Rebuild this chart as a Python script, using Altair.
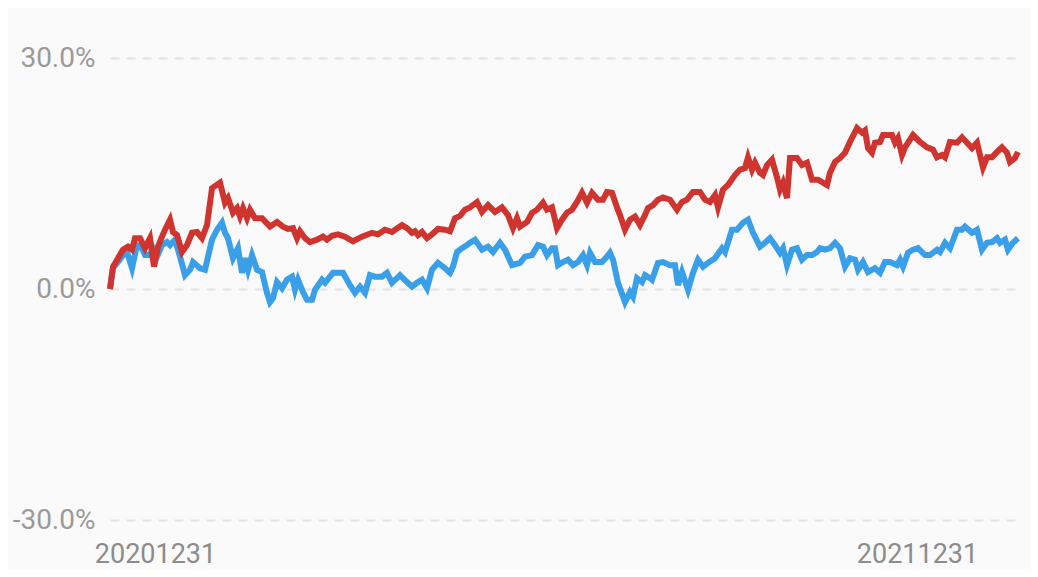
import altair as alt
import pandas as pd

# position along the year (0 = 20201231 ... 908 = end), cumulative return in %
red_t = [0, 3, 13, 18, 22, 25, 30, 35, 40, 44, 48, 52, 55, 60, 63, 67, 72, 77, 82, 87, 92, 97, 102, 110,
         115, 118, 123, 127, 130, 133, 137, 140, 145, 152, 160, 167, 173, 178, 183, 187, 190, 195, 200,
         207, 213, 217, 222, 228, 235, 243, 252, 262, 268, 275, 282, 292, 297, 302, 305, 308, 312, 317,
         322, 328, 335, 340, 345, 350, 355, 360, 367, 372, 378, 385, 392, 398, 403, 407, 410, 417, 422,
         427, 433, 437, 442, 447, 452, 457, 462, 467, 472, 477, 482, 488, 493, 497, 502, 507, 510, 515,
         520, 525, 530, 535, 538, 543, 548, 553, 560, 567, 572, 577, 583, 590, 595, 600, 605, 608, 613,
         618, 625, 630, 635, 638, 642, 645, 650, 653, 657, 662, 667, 670, 673, 677, 680, 687, 692, 697,
         702, 708, 717, 720, 725, 730, 735, 740, 747, 752, 755, 758, 762, 765, 770, 773, 782, 785, 788,
         792, 795, 803, 810, 817, 823, 827, 832, 835, 840, 847, 852, 857, 862, 867, 873, 877, 882, 887,
         892, 897, 900, 905, 908]
red_v = [0.0, 2.9, 5.1, 5.5, 5.1, 6.6, 6.6, 5.3, 6.6, 2.9, 5.5, 6.8, 7.7, 9.0, 7.4, 7.0, 4.8, 5.7, 7.3, 7.4,
         6.6, 8.3, 13.1, 13.8, 11.2, 11.8, 9.9, 10.5, 9.4, 10.5, 9.2, 10.3, 9.2, 9.2, 8.1, 8.7, 8.1, 7.8,
         7.9, 6.6, 7.5, 6.6, 6.1, 6.4, 6.8, 6.4, 6.9, 7.1, 6.8, 6.2, 6.8, 7.3, 7.1, 7.7, 7.4, 8.3, 7.9, 7.3,
         7.5, 7.0, 7.4, 6.6, 7.1, 7.8, 7.7, 7.5, 9.2, 9.5, 10.3, 10.6, 11.3, 10.0, 10.9, 10.0, 10.6, 9.6,
         7.9, 9.2, 8.1, 8.7, 9.9, 10.3, 11.2, 10.3, 10.6, 7.9, 9.0, 9.9, 10.3, 11.3, 12.5, 11.2, 12.5,
         11.6, 11.6, 12.6, 12.5, 10.6, 9.6, 7.7, 9.0, 9.4, 8.3, 9.6, 10.5, 10.9, 11.6, 11.9, 11.6, 10.3,
         11.3, 11.6, 12.6, 12.6, 11.6, 11.3, 12.2, 10.6, 12.9, 13.5, 14.8, 15.5, 15.7, 17.1, 15.5, 16.4,
         15.1, 14.8, 16.1, 16.8, 14.5, 12.9, 13.8, 11.8, 17.0, 17.0, 16.1, 16.4, 14.2, 14.2, 13.5, 15.1,
         16.5, 17.0, 17.7, 19.1, 20.9, 20.3, 20.6, 18.3, 17.7, 19.0, 19.1, 20.0, 20.0, 19.0, 19.6, 17.4,
         18.4, 20.0, 19.1, 18.4, 18.1, 17.1, 17.4, 17.1, 19.1, 19.0, 19.7, 19.0, 18.3, 19.0, 15.8, 17.1,
         17.1, 17.8, 18.4, 17.7, 16.5, 17.0, 17.8]

blue_t = [0, 3, 8, 13, 17, 22, 27, 32, 35, 40, 43, 47, 52, 57, 60, 65, 70, 75, 80, 83, 90, 95, 102, 107,
          112, 115, 118, 123, 128, 132, 135, 138, 142, 147, 152, 157, 160, 163, 167, 172, 177, 182, 185,
          188, 193, 197, 202, 205, 212, 215, 223, 233, 240, 245, 250, 255, 260, 265, 272, 277, 282, 290,
          297, 302, 307, 312, 317, 322, 328, 335, 340, 343, 347, 352, 357, 360, 365, 372, 378, 383, 390,
          395, 402, 410, 415, 422, 428, 433, 437, 442, 445, 448, 453, 458, 463, 468, 473, 477, 480, 485,
          492, 497, 500, 503, 508, 515, 520, 523, 527, 532, 535, 540, 542, 548, 553, 560, 565, 568, 572,
          578, 583, 588, 593, 598, 605, 612, 615, 622, 627, 633, 638, 643, 650, 655, 660, 665, 670, 673,
          677, 682, 687, 692, 697, 702, 707, 710, 715, 720, 725, 730, 735, 740, 745, 748, 753, 758, 765,
          770, 775, 780, 787, 790, 793, 798, 803, 808, 815, 820, 827, 830, 835, 840, 847, 852, 855, 862,
          867, 872, 877, 882, 887, 890, 895, 898, 903, 908]
blue_v = [0.0, 2.7, 3.5, 4.4, 4.8, 2.7, 5.7, 5.3, 4.4, 4.4, 5.3, 4.2, 5.7, 6.1, 5.7, 6.4, 4.2, 1.8, 2.5,
          3.5, 2.7, 2.5, 6.4, 7.7, 8.6, 7.3, 6.6, 4.0, 5.3, 2.1, 4.0, 2.5, 4.4, 2.5, 2.2, -0.5, -1.7,
          -1.2, 0.9, 0.1, 1.2, 1.6, -0.1, 1.2, -0.4, -1.4, -1.4, -0.1, 1.2, 0.8, 2.1, 2.1, 0.5, -0.5, 0.3,
          -0.5, 1.8, 1.6, 1.6, 2.1, 0.8, 1.8, 0.9, 0.3, 0.8, 1.2, 0.1, 2.5, 3.4, 2.7, 2.1, 2.9, 4.8, 5.3,
          5.7, 6.0, 6.4, 5.1, 5.5, 4.8, 6.0, 5.1, 3.1, 3.4, 4.2, 4.4, 5.7, 5.5, 4.4, 5.3, 5.3, 3.1, 3.5,
          3.8, 3.1, 3.5, 4.4, 3.1, 4.7, 3.5, 3.5, 4.2, 4.7, 3.8, 0.8, -1.7, -0.4, -1.0, 1.4, 0.9, 1.8,
          1.4, 1.2, 3.4, 3.5, 3.1, 3.1, 0.5, 2.2, -0.1, 2.1, 3.8, 2.9, 3.4, 4.0, 5.3, 4.8, 7.7, 7.7, 8.6,
          9.0, 7.3, 5.5, 6.0, 6.6, 5.7, 4.7, 5.3, 3.1, 5.1, 5.3, 3.8, 4.4, 4.4, 4.8, 5.3, 5.1, 5.3, 6.0,
          5.3, 2.9, 4.0, 3.8, 2.5, 3.5, 2.2, 2.7, 2.1, 3.5, 3.5, 3.1, 3.8, 2.9, 4.7, 5.1, 5.3, 4.4, 4.4,
          5.1, 4.8, 6.0, 5.3, 7.7, 7.7, 8.1, 7.3, 7.7, 5.1, 6.0, 6.1, 6.6, 6.0, 6.4, 5.1, 6.0, 6.6]

x_tick_values = [45, 807]
x_tick_labels = ["20201231", "20211231"]
y_ticks = [-30, 0, 30]

red_df = pd.DataFrame({"t": red_t, "v": red_v})
blue_df = pd.DataFrame({"t": blue_t, "v": blue_v})

label_expr = "datum.value < 400 ? '%s' : '%s'" % (x_tick_labels[0], x_tick_labels[1])

x_enc = alt.X("t:Q",
              scale=alt.Scale(domain=[0, 908], nice=False, zero=False),
              axis=alt.Axis(values=x_tick_values, labelExpr=label_expr, title=None,
                            grid=False, domain=False, ticks=False,
                            labelFontSize=27, labelColor="#8c8c8c", labelFont="Roboto",
                            labelPadding=21, labelAngle=0))
y_enc = alt.Y("v:Q",
              scale=alt.Scale(domain=[-30, 30], nice=False),
              axis=alt.Axis(values=y_ticks,
                            labelExpr="(datum.value < 0 ? '-' : '') + format(abs(datum.value), '.1f') + '%'",
                            title=None, domain=False, ticks=False,
                            grid=True, gridDash=[9, 7], gridColor="#e2e2e2", gridWidth=2,
                            labelFontSize=28, labelColor="#9a9a9a", labelFont="Roboto",
                            labelPadding=15))

blue_line = alt.Chart(blue_df).mark_line(color="#3a9fe9", strokeWidth=6).encode(x=x_enc, y=y_enc)
red_line = alt.Chart(red_df).mark_line(color="#d0342f", strokeWidth=6).encode(x=x_enc, y=y_enc)

chart = alt.layer(blue_line, red_line).properties(
    width=908, height=462,
    autosize=alt.AutoSizeParams(type="none"),
    padding={"left": 102, "top": 50, "right": 12, "bottom": 49},
    background="#fafafa",
).configure_view(stroke=None)

chart.save("out.html", embed_options={"renderer": "svg", "actions": False})
